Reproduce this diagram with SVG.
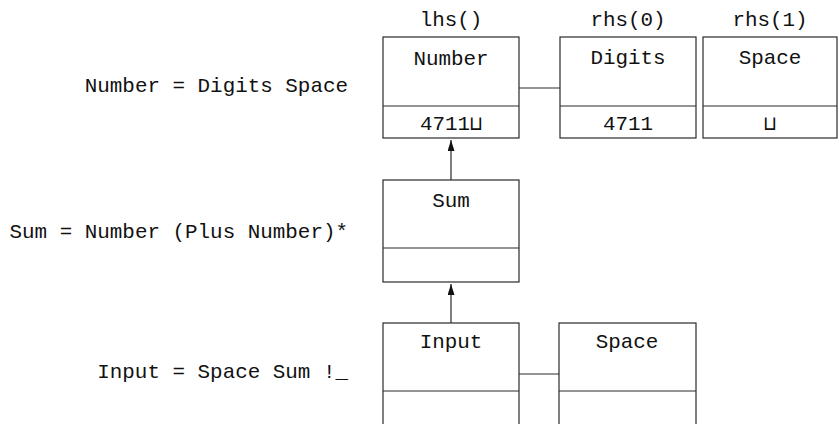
<svg xmlns="http://www.w3.org/2000/svg" width="839" height="424" viewBox="0 0 839 424">
  <style>
    text { font-family: "Liberation Mono", "DejaVu Sans Mono", monospace; font-size: 20.9px; fill: #111; }
    .mid { text-anchor: middle; }
    .end { text-anchor: end; }
    .box { fill: #fff; stroke: #2a2a2a; stroke-width: 1.2; }
    .rule { stroke: #2a2a2a; stroke-width: 1.2; fill: none; }
    .sq { font-family: "DejaVu Sans Mono", "DejaVu Sans", monospace; font-size: 20px; }
  </style>
  <defs>
    <marker id="arrow" viewBox="0 0 11 7" refX="11" refY="3.5" markerWidth="11" markerHeight="7" markerUnits="userSpaceOnUse" orient="auto">
      <path d="M0,0 L11,3.5 L0,7 z" fill="#111"/>
    </marker>
  </defs>

  <!-- grammar rules -->
  <g id="rules">
    <text class="end" x="348" y="92">Number = Digits Space</text>
    <text class="end" x="348" y="238">Sum = Number (Plus Number)*</text>
    <text class="end" x="348" y="378">Input = Space Sum !_</text>
  </g>

  <!-- column headings -->
  <g id="headings">
    <text class="mid" x="451" y="26">lhs()</text>
    <text class="mid" x="628" y="26">rhs(0)</text>
    <text class="mid" x="770" y="26">rhs(1)</text>
  </g>

  <!-- connectors -->
  <g id="connectors">
    <line class="rule" x1="519" y1="88" x2="560" y2="88"/>
    <line class="rule" x1="451" y1="180" x2="451" y2="140" marker-end="url(#arrow)"/>
    <line class="rule" x1="451" y1="323" x2="451" y2="284" marker-end="url(#arrow)"/>
    <line class="rule" x1="519" y1="374" x2="559" y2="374"/>
  </g>

  <g id="node-number">
    <rect class="box" x="383" y="37" width="136" height="101"/>
    <line class="rule" x1="383" y1="106" x2="519" y2="106"/>
    <text class="mid" x="451" y="65">Number</text>
    <text class="mid" x="451" y="130">4711<tspan class="sq">⊔</tspan></text>
  </g>

  <g id="node-digits">
    <rect class="box" x="560" y="37" width="136" height="101"/>
    <line class="rule" x1="560" y1="106" x2="696" y2="106"/>
    <text class="mid" x="628" y="64">Digits</text>
    <text class="mid" x="628" y="130">4711</text>
  </g>

  <g id="node-space-1">
    <rect class="box" x="703" y="37" width="134" height="101"/>
    <line class="rule" x1="703" y1="106" x2="837" y2="106"/>
    <text class="mid" x="770" y="64">Space</text>
    <text class="mid sq" x="770" y="130">⊔</text>
  </g>

  <g id="node-sum">
    <rect class="box" x="383" y="180" width="136" height="102"/>
    <line class="rule" x1="383" y1="248" x2="519" y2="248"/>
    <text class="mid" x="451" y="207">Sum</text>
  </g>

  <g id="node-input">
    <rect class="box" x="383" y="323" width="136" height="110"/>
    <line class="rule" x1="383" y1="391" x2="519" y2="391"/>
    <text class="mid" x="451" y="348">Input</text>
  </g>

  <g id="node-space-2">
    <rect class="box" x="559" y="323" width="137" height="110"/>
    <line class="rule" x1="559" y1="391" x2="696" y2="391"/>
    <text class="mid" x="627" y="348">Space</text>
  </g>
</svg>
